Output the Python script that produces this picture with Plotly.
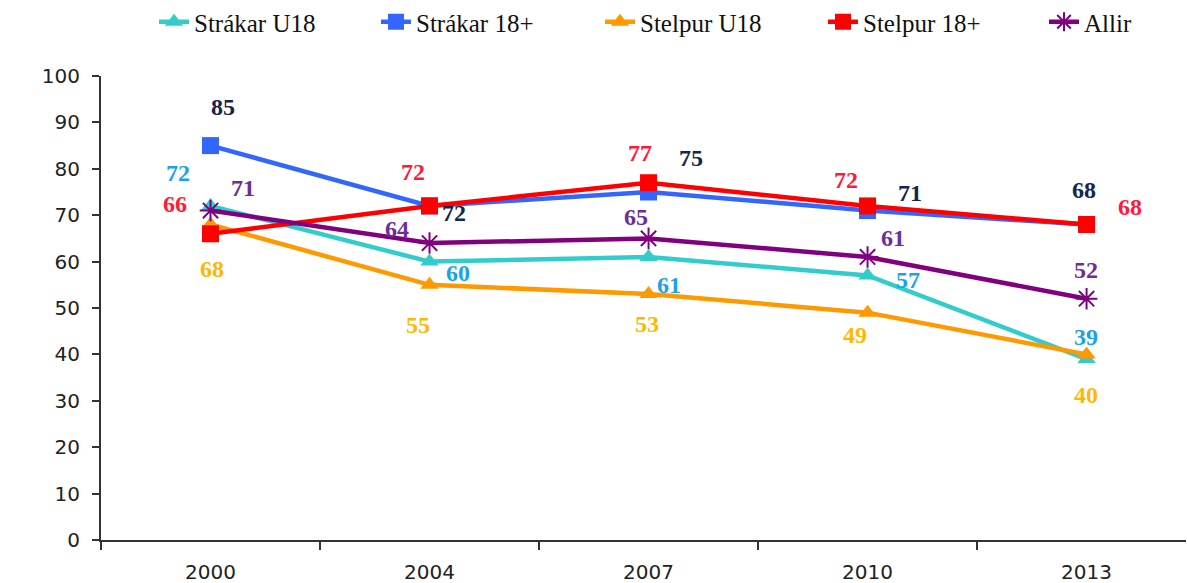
import plotly.graph_objects as go

years = ["2000", "2004", "2007", "2010", "2013"]
y_ticks = [0, 10, 20, 30, 40, 50, 60, 70, 80, 90, 100]

strakar_u18 = [72, 60, 61, 57, 39]
strakar_18 = [85, 72, 75, 71, 68]
stelpur_u18 = [68, 55, 53, 49, 40]
stelpur_18 = [66, 72, 77, 72, 68]
allir = [71, 64, 65, 61, 52]

series_names = ["Strákar U18", "Strákar 18+", "Stelpur U18", "Stelpur 18+", "Allir"]
series_values = [strakar_u18, strakar_18, stelpur_u18, stelpur_18, allir]

# styles
line_colors = ["#33CCCC", "#3366FF", "#FF9900", "#FF0000", "#800080"]
label_colors = ["#1AA3EC", "#14254F", "#FFB800", "#FF1A3C", "#6B2E9A"]
symbols = ["triangle-up", "square", "triangle-up", "square", "asterisk-open"]
marker_sizes = [16, 17, 16, 17, 18]
legend_ids = ["legend", "legend2", "legend3", "legend4", "legend5"]
legend_x_px = [154, 376, 600, 823, 1044]

# label offsets in pixels (dx, dy) relative to each point; dy positive = up
label_offsets = [
    [(-33, 33), (28, -11), (20, -28), (40, -4), (-1, 22)],
    [(12, 39), (24, -7), (42, 34), (42, 18), (-3, 34)],
    [(1, -45), (-12, -40), (-2, -30), (-13, -22), (-1, -41)],
    [(-36, 30), (-17, 34), (-9, 30), (-22, 26), (43, 17)],
    [(32, 23), (-33, 14), (-13, 21), (25, 19), (-1, 29)],
]

fig = go.Figure()
for name, vals, lc, sym, ms, lg in zip(series_names, series_values, line_colors,
                                        symbols, marker_sizes, legend_ids):
    fig.add_trace(go.Scatter(
        x=years, y=vals, name=name, mode="lines+markers", legend=lg,
        line=dict(color=lc, width=4.5),
        marker=dict(symbol=sym, size=ms, color=lc,
                    line=dict(color=lc, width=2 if sym == "asterisk-open" else 0)),
    ))

for vals, col, offs in zip(series_values, label_colors, label_offsets):
    for i, (v, (dx, dy)) in enumerate(zip(vals, offs)):
        fig.add_annotation(
            x=i, y=v, xref="x", yref="y", text="<b>" + str(v) + "</b>", showarrow=False,
            xshift=dx, yshift=dy,
            font=dict(family="Liberation Serif", size=24, color=col),
        )

legend_style = dict(orientation="h", xref="container", yref="container",
                    xanchor="left", y=1 - 22 / 583, yanchor="middle",
                    bgcolor="rgba(0,0,0,0)",
                    font=dict(family="Liberation Serif", size=25, color="#111111"))
legend_layout = {lg: dict(legend_style, x=px / 1187) for lg, px in zip(legend_ids, legend_x_px)}

fig.update_layout(
    width=1187, height=583,
    margin=dict(l=101, r=1, t=76, b=43, autoexpand=False),
    paper_bgcolor="white", plot_bgcolor="white",
    showlegend=True,
    **legend_layout,
)

fig.update_xaxes(
    type="category", range=[-0.5, 4.454],
    showline=True, linecolor="#333333", linewidth=2,
    ticks="outside", tickson="boundaries", ticklen=8, tickcolor="#333333", tickwidth=2,
    showgrid=False, zeroline=False,
    tickfont=dict(family="DejaVu Sans", size=20, color="#222222"),
    ticklabelstandoff=13,
)
fig.update_yaxes(
    range=[0, 100], tickvals=y_ticks,
    showline=True, linecolor="#333333", linewidth=2,
    ticks="outside", ticklen=7, tickcolor="#333333", tickwidth=2,
    showgrid=False, zeroline=False,
    tickfont=dict(family="DejaVu Sans", size=20, color="#222222"),
    ticklabelstandoff=8,
)

fig.write_html("out.html", config={"displayModeBar": False},
               post_script="document.body.style.margin='0';")
